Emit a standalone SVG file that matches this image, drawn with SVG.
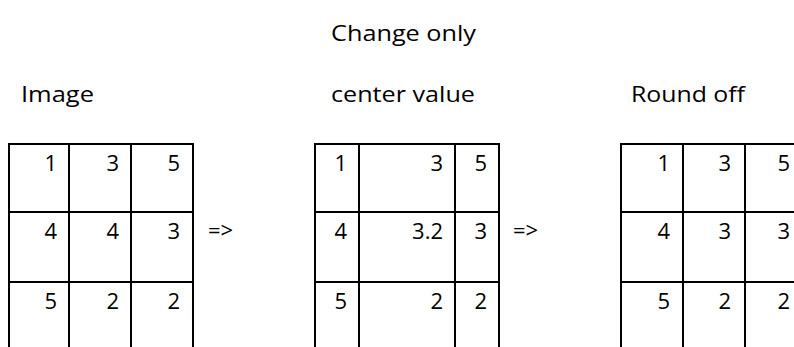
<svg xmlns="http://www.w3.org/2000/svg" width="794" height="347" viewBox="0 0 794 347">
  <style>
    .t { font-family: "Open Sans", "Liberation Sans", sans-serif; font-size: 22px; fill: #000; }
    .n { text-anchor: end; }
    .grid line { stroke: #000; stroke-width: 2; }
  </style>
  <rect width="794" height="347" fill="#fff"/>

  <!-- headings -->
  <g id="headings">
    <text class="t" x="331" y="41" textLength="145" lengthAdjust="spacingAndGlyphs">Change only</text>
    <text class="t" x="21" y="102" textLength="73" lengthAdjust="spacingAndGlyphs">Image</text>
    <text class="t" x="331" y="102" textLength="144" lengthAdjust="spacingAndGlyphs">center value</text>
    <text class="t" x="631" y="102" textLength="114" lengthAdjust="spacingAndGlyphs">Round off</text>
  </g>

  <!-- original 3x3 image -->
  <g id="grid-image" class="grid">
    <line x1="9" y1="144" x2="193" y2="144"/>
    <line x1="9" y1="212" x2="193" y2="212"/>
    <line x1="9" y1="282" x2="193" y2="282"/>
    <line x1="9" y1="143" x2="9" y2="347"/>
    <line x1="69" y1="143" x2="69" y2="347"/>
    <line x1="131" y1="143" x2="131" y2="347"/>
    <line x1="193" y1="143" x2="193" y2="347"/>
    <text class="t n" x="57" y="171">1</text>
    <text class="t n" x="119" y="171">3</text>
    <text class="t n" x="180" y="171">5</text>
    <text class="t n" x="57" y="239">4</text>
    <text class="t n" x="119" y="239">4</text>
    <text class="t n" x="180" y="239">3</text>
    <text class="t n" x="57" y="309">5</text>
    <text class="t n" x="119" y="309">2</text>
    <text class="t n" x="180" y="309">2</text>
  </g>

  <!-- center value replaced -->
  <g id="grid-center" class="grid">
    <line x1="315" y1="144" x2="499" y2="144"/>
    <line x1="315" y1="212" x2="499" y2="212"/>
    <line x1="315" y1="282" x2="499" y2="282"/>
    <line x1="315" y1="143" x2="315" y2="347"/>
    <line x1="359" y1="143" x2="359" y2="347"/>
    <line x1="455" y1="143" x2="455" y2="347"/>
    <line x1="499" y1="143" x2="499" y2="347"/>
    <text class="t n" x="347" y="171">1</text>
    <text class="t n" x="443" y="171">3</text>
    <text class="t n" x="487" y="171">5</text>
    <text class="t n" x="347" y="239">4</text>
    <text class="t n" x="443" y="239">3.2</text>
    <text class="t n" x="487" y="239">3</text>
    <text class="t n" x="347" y="309">5</text>
    <text class="t n" x="443" y="309">2</text>
    <text class="t n" x="487" y="309">2</text>
  </g>

  <!-- rounded result -->
  <g id="grid-round" class="grid">
    <line x1="621" y1="144" x2="807" y2="144"/>
    <line x1="621" y1="212" x2="807" y2="212"/>
    <line x1="621" y1="282" x2="807" y2="282"/>
    <line x1="621" y1="143" x2="621" y2="347"/>
    <line x1="683" y1="143" x2="683" y2="347"/>
    <line x1="745" y1="143" x2="745" y2="347"/>
    <line x1="807" y1="143" x2="807" y2="347"/>
    <text class="t n" x="670" y="171">1</text>
    <text class="t n" x="731" y="171">3</text>
    <text class="t n" x="790" y="171">5</text>
    <text class="t n" x="670" y="239">4</text>
    <text class="t n" x="731" y="239">3</text>
    <text class="t n" x="790" y="239">3</text>
    <text class="t n" x="670" y="309">5</text>
    <text class="t n" x="731" y="309">2</text>
    <text class="t n" x="790" y="309">2</text>
  </g>

  <!-- transitions between stages -->
  <g id="connectors">
    <text class="t" x="208" y="238">=&gt;</text>
    <text class="t" x="513" y="238">=&gt;</text>
  </g>
</svg>
